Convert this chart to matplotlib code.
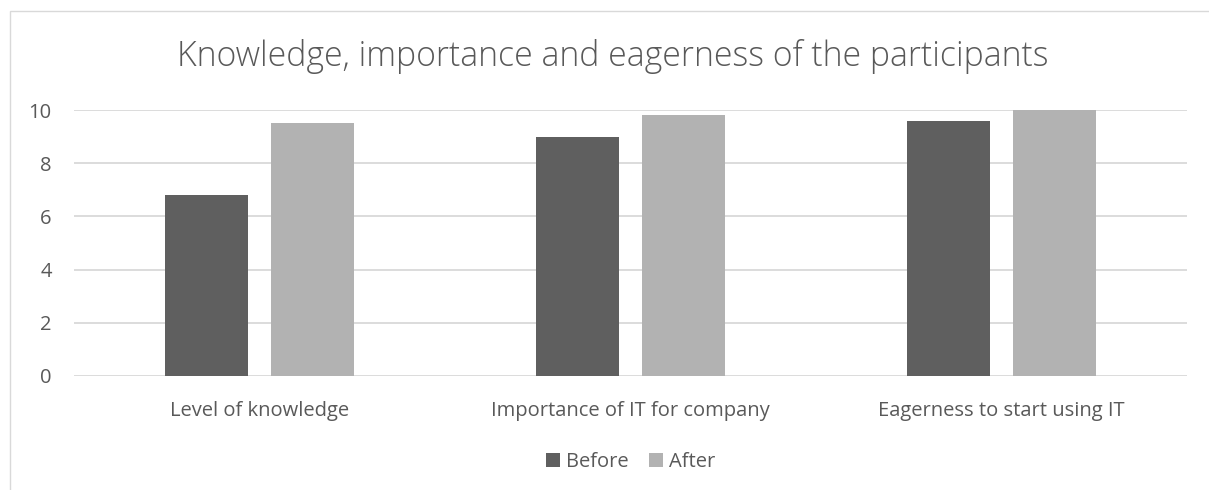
import numpy as np
import matplotlib.pyplot as plt
from matplotlib.patches import Rectangle

categories = ["Level of knowledge", "Importance of IT for company", "Eagerness to start using IT"]
before = [6.8, 9.0, 9.6]
after = [9.5, 9.8, 10.0]
series_names = ["Before", "After"]

TEXT = "#595959"
GRID = "#d9d9d9"
plt.rcParams['font.family'] = ['Open Sans', 'DejaVu Sans']

fig = plt.figure(figsize=(12.09, 4.9), dpi=100)
ax = fig.add_axes([0.0612, 0.2327, 0.9206, 0.5428])

# outer chart frame (runs off the right and bottom edges)
fig.patches.append(Rectangle((10 / 1209, -0.1), 1.2, 1 - 11 / 490 + 0.1,
                             transform=fig.transFigure, fill=False,
                             edgecolor=GRID, linewidth=1.0))

x = np.arange(len(categories))
w = 0.224
off = 0.143
ax.bar(x - off, before, w, color="#5f5f5f", label=series_names[0], zorder=3)
ax.bar(x + off, after, w, color="#b2b2b2", label=series_names[1], zorder=3)

ax.set_xlim(-0.5, 2.5)
ax.set_ylim(0, 10)
ax.set_yticks(range(0, 11, 2))
ax.yaxis.grid(True, color=GRID, linewidth=1.3, zorder=0)
ax.set_axisbelow(True)
for s in ax.spines.values():
    s.set_visible(False)
ax.tick_params(axis='both', length=0, colors=TEXT, labelsize=14.5)
ax.tick_params(axis='y', pad=16)
ax.tick_params(axis='x', pad=18)
ax.set_xticks(x)
ax.set_xticklabels(categories)

fig.text(0.507, 0.884, "Knowledge, importance and eagerness of the participants",
         ha='center', va='center', fontsize=24.3, color=TEXT, fontweight='light')

ax.legend(loc='center', bbox_to_anchor=(0.5, -0.323), ncol=2, frameon=False,
          fontsize=14.5, labelcolor=TEXT, handlelength=0.7, handleheight=0.7,
          handletextpad=0.3, columnspacing=1.0)

fig.savefig("out.png", dpi=100)
